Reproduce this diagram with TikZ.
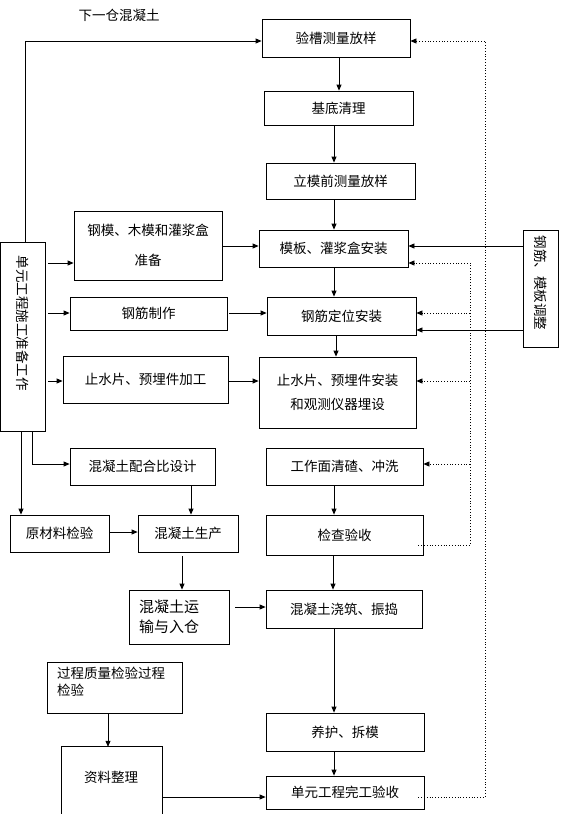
\documentclass[tikz,border=0pt]{standalone}
\usepackage{fontspec}
\setmainfont{Noto Sans CJK SC}
\usetikzlibrary{arrows.meta}
\tikzset{
  box/.style={draw, line width=0.8pt, inner sep=0pt, align=center,
    font=\fontsize{13.5}{16}\selectfont},
  lbl/.style={inner sep=0pt, font=\fontsize{13.5}{16}\selectfont},
  arr/.style={line width=0.8pt, -{Triangle[length=6pt,width=5pt]}},
  darr/.style={line width=0.8pt, dotted, -{Triangle[length=6pt,width=5pt]}},
  dln/.style={line width=0.8pt, dotted}
}
\begin{document}
\begin{tikzpicture}[x=1pt,y=-1pt]
\useasboundingbox (0,0) rectangle (560,814);

\node[lbl] (top) at (119,15) {下一仓混凝土};

\node[box, minimum width=148pt, minimum height=38pt] (yc) at (336,38) {验槽测量放样};
\node[box, minimum width=149pt, minimum height=34pt] (jd) at (338.5,108) {基底清理};
\node[box, minimum width=149pt, minimum height=36pt] (lm) at (340.5,181) {立模前测量放样};
\node[box, minimum width=148pt, minimum height=69pt, font=\fontsize{13.5}{30}\selectfont] (gm) at (148,245.5) {钢模、木模和灌浆盒\\准备};
\node[box, minimum width=149pt, minimum height=37pt] (mb) at (333.5,248.5) {模板、灌浆盒安装};
\node[box, minimum width=157pt, minimum height=33pt] (gjz) at (148.5,313.5) {钢筋制作};
\node[box, minimum width=149pt, minimum height=38pt] (gjd) at (341.5,316) {钢筋定位安装};
\node[box, minimum width=165pt, minimum height=47pt] (zsj) at (145.5,379.5) {止水片、预埋件加工};
\node[box, minimum width=157pt, minimum height=71pt, font=\fontsize{13.5}{24}\selectfont] (zsa) at (337.5,392.5) {止水片、预埋件安装\\和观测仪器埋设};

\node[box, minimum width=44.5pt, minimum height=189pt] (prep) at (22.75,336.5) {};
\node[lbl] (preptxt) at (22.75,323) {\rotatebox{-90}{单元工程施工准备工作}};
\node[box, minimum width=35pt, minimum height=117pt] (tz) at (540.5,288.5) {};
\node[lbl] (tztxt) at (540.5,283) {\rotatebox{-90}{钢筋、模板调整}};

\node[box, minimum width=145pt, minimum height=37pt] (phb) at (142.5,466.5) {混凝土配合比设计};
\node[box, minimum width=157pt, minimum height=37pt] (gzm) at (344.5,466.5) {工作面清碴、冲洗};
\node[box, minimum width=99pt, minimum height=37pt] (ycl) at (59.5,533.5) {原材料检验};
\node[box, minimum width=100pt, minimum height=37pt] (sc) at (188,533.5) {混凝土生产};
\node[box, minimum width=157pt, minimum height=40pt] (jc) at (344.5,535) {检查验收};
\node[box, minimum width=100pt, minimum height=54pt, text width=80pt, align=left, font=\fontsize{15}{20}\selectfont] (ys) at (179,617) {混凝土运\\输与入仓};
\node[box, minimum width=156pt, minimum height=38pt] (jz) at (344,609) {混凝土浇筑、振捣};
\node[box, minimum width=135pt, minimum height=51pt] (gc) at (114.5,687.5) {};
\node[lbl, anchor=north west, align=left, font=\fontsize{13.5}{17}\selectfont] (gctxt) at (57,667) {过程质量检验过程\\检验};
\node[lbl, minimum width=100pt, minimum height=67pt] (zl) at (112,780.5) {};
\node[lbl] (zltxt) at (111,777) {资料整理};
\draw[line width=0.8pt] (zl.south west) |- (zl.north east) -- (zl.south east);
\node[box, minimum width=158pt, minimum height=38pt] (yh) at (345,732) {养护、拆模};
\node[box, minimum width=158pt, minimum height=33pt] (wg) at (345,792.5) {单元工程完工验收};

% main chain
\draw[arr] (prep.north -| 25,0) |- (yc.west |- 0,41);
\draw[arr] (yc.south -| 339,0) -- (jd.north -| 339,0);
\draw[arr] (jd.south -| 334,0) -- (lm.north -| 334,0);
\draw[arr] (lm.south -| 334,0) -- (mb.north -| 334,0);
\draw[arr] (mb.south -| 334,0) -- (gjd.north -| 334,0);
\draw[arr] (gjd.south -| 336,0) -- (zsa.north -| 336,0);
\draw[arr] (prep.east |- 0,263) ++(3,0) -- (gm.west |- 0,263);
\draw[arr] (prep.east |- 0,313) ++(3,0) -- (gjz.west |- 0,313);
\draw[arr] (prep.east |- 0,381) ++(3,0) -- (zsj.west |- 0,381);
\draw[arr] (gm.east |- 0,246) -- (mb.west |- 0,246);
\draw[arr] (gjz.east |- 0,313) ++(2,0) -- (gjd.west |- 0,313);
\draw[arr] (zsj.east |- 0,381) ++(1,0) -- (zsa.west |- 0,381);
\draw[arr] (tz.west |- 0,246) -- (mb.east |- 0,246);
\draw[arr] (tz.west |- 0,330) -- (gjd.east |- 0,330);
\draw[arr] (prep.south -| 21,0) -- (ycl.north -| 21,0);
\draw[arr] (prep.south -| 32,0) |- (phb.west |- 0,464);
\draw[arr] (phb.south -| 191,0) -- (sc.north -| 191,0);
\draw[arr] (ycl.east |- 0,532) ++(1,0) -- (sc.west |- 0,532);
\draw[arr] (sc.south -| 182,0) ++(0,4) -- (ys.north -| 182,0);
\draw[arr] (ys.east |- 0,607) ++(6,0) -- (jz.west |- 0,607);
\draw[arr] (gzm.south -| 334,0) -- (jc.north -| 334,0);
\draw[arr] (jc.south -| 333,0) -- (jz.north -| 333,0);
\draw[arr] (jz.south -| 334,0) -- (yh.north -| 334,0);
\draw[arr] (yh.south -| 334,0) -- (wg.north -| 334,0);
\draw[arr] (gc.south -| 108,0) -- (zl.north -| 108,0);
\draw[arr] (zl.east |- 0,797) -- (wg.west |- 0,797);

% dotted feedback
\coordinate (d1) at (485,797);
\draw[darr] (wg.east |- 0,797) ++(-6,0) -- (d1) |- (yc.east |- 0,41);
\coordinate (d2) at (470,545);
\draw[darr] (jc.east |- 0,545) ++(-5,0) -- (d2) |- (mb.east |- 0,263);
\draw[darr] (d2 |- 0,313) -- (gjd.east |- 0,313);
\draw[darr] (d2 |- 0,381) -- (zsa.east |- 0,381);
\draw[darr] (d2 |- 0,464) -- (gzm.east |- 0,464);
\end{tikzpicture}
\end{document}
